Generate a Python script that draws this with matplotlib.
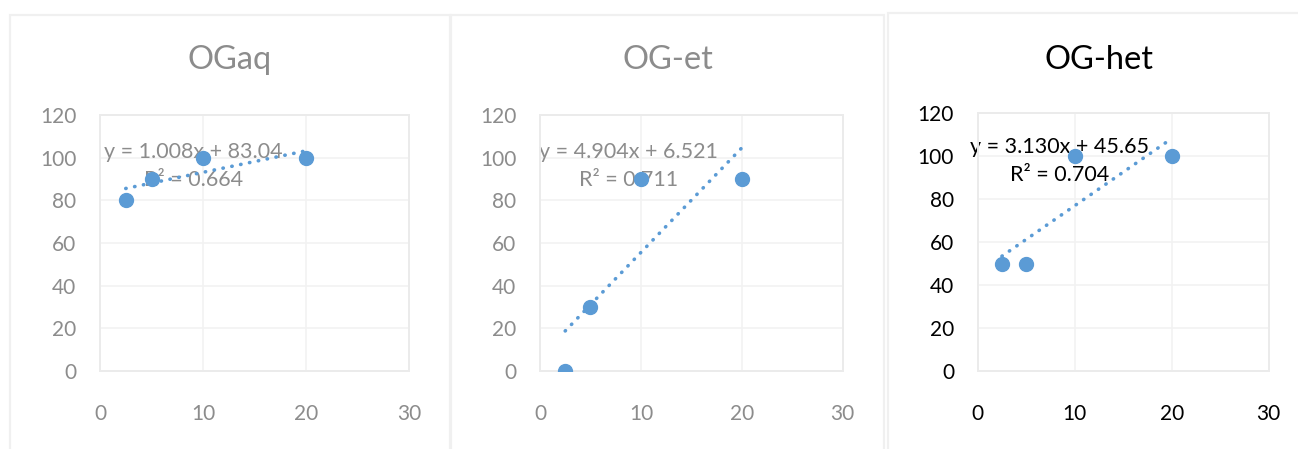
import numpy as np
import matplotlib
matplotlib.use("Agg")
import matplotlib.pyplot as plt
from matplotlib.patches import Rectangle

# concentrations and responses for each panel
x_vals = [2.5, 5, 10, 20]
titles = ["OGaq", "OG-et", "OG-het"]
y_ogaq = [80, 90, 100, 100]
y_oget = [0, 30, 90, 90]
y_oghet = [50, 50, 100, 100]
eq_labels = ["y = 1.008x + 83.04\nR² = 0.664",
             "y = 4.904x + 6.521\nR² = 0.711",
             "y = 3.130x + 45.65\nR² = 0.704"]
eq_pos = [(9.1, 96.3), (8.8, 96.3), (8.4, 97.8)]
x_ticks = [0, 10, 20, 30]
y_ticks = [0, 20, 40, 60, 80, 100, 120]

W, H = 1298, 449
plt.rcParams['font.family'] = ['Lato', 'DejaVu Sans']
fig = plt.figure(figsize=(W / 100, H / 100), dpi=100)

def fx(px):
    return px / W

def fy(py):
    return 1 - py / H

# panel frames (x0, x1, top) in pixels
frames = [(10, 450, 15), (451, 884, 15), (888, 1300, 13)]
for x0, x1, top in frames:
    fig.patches.append(Rectangle((fx(x0), fy(H + 5)), fx(x1) - fx(x0), fy(top) - fy(H + 5),
                                 transform=fig.transFigure, fill=False,
                                 edgecolor='#f0f0f0', linewidth=1.6))

# axes boxes (left, right, top, bottom) in pixels
boxes = [(100, 409, 115, 371), (540, 842.7, 115, 371), (977.7, 1268.7, 113.3, 371)]
title_x = [230, 667.7, 1099]
text_colors = ['#8c8c8c', '#8c8c8c', '#000000']

for i, ys in enumerate([y_ogaq, y_oget, y_oghet]):
    l, r, t, b = boxes[i]
    ax = fig.add_axes([fx(l), fy(b), fx(r) - fx(l), fy(t) - fy(b)])
    col = text_colors[i]
    ax.set_xlim(0, 30)
    ax.set_ylim(0, 120)
    ax.set_xticks(x_ticks)
    ax.set_yticks(y_ticks)
    ax.tick_params(length=0, labelsize=15, labelcolor=col)
    ax.tick_params(axis='y', pad=17)
    ax.tick_params(axis='x', pad=24)
    ax.grid(True, color='#f2f2f2', linewidth=1.2)
    ax.set_axisbelow(True)
    for s in ax.spines.values():
        s.set_color('#ebebeb')
        s.set_linewidth(1.4)

    slope, icpt = np.polyfit(x_vals, ys, 1)
    xt = np.array([x_vals[0], x_vals[-1]])
    ax.plot(xt, slope * xt + icpt, color='#5b9bd5', linewidth=2.6,
            linestyle=(0, (0.1, 2.4)), dash_capstyle='round', zorder=3)
    ax.plot(x_vals, ys, 'o', color='#5b9bd5', markersize=10, zorder=4)
    ax.text(eq_pos[i][0], eq_pos[i][1], eq_labels[i], ha='center', va='center',
            fontsize=15.5, color=col, linespacing=1.5, zorder=2)

    fig.text(fx(title_x[i]), fy(60), titles[i], ha='center', va='center',
             fontsize=23.5, color=col)

fig.savefig("out.png", dpi=100)
